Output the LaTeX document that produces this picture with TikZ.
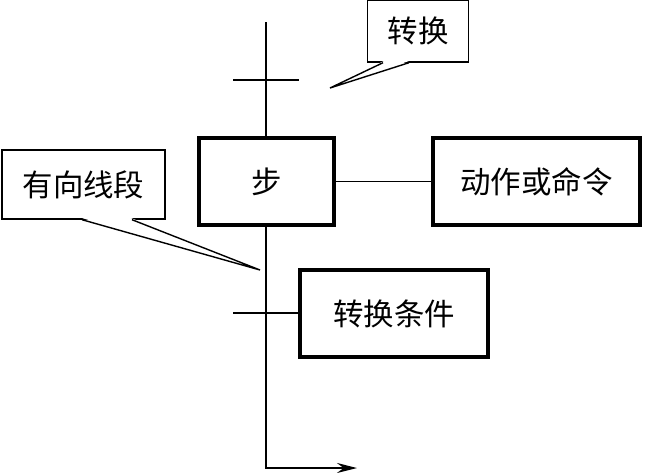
\documentclass[tikz,border=0pt]{standalone}
\usepackage{fontspec}
\newfontfamily\cjk{Noto Sans CJK SC}
\usetikzlibrary{arrows.meta, positioning, calc}

\begin{document}
\begin{tikzpicture}[
    x=0.03cm, y=-0.03cm,
    box/.style={
        rectangle,
        draw,
        line width=3.2pt,
        inner sep=0pt,
        minimum height=2.61cm,
        align=center,
        font=\cjk\fontsize{26}{30}\selectfont
    },
    callout/.style={
        rectangle,
        draw,
        line width=1.2pt,
        inner sep=0pt,
        align=center,
        font=\cjk\fontsize{26}{30}\selectfont
    },
    flow/.style={
        line width=1pt
    },
    arrow/.style={
        -{Stealth[length=0.6cm, width=0.3cm, inset=0.2cm]},
        line width=1.2pt
    }
]
\useasboundingbox (0,0) rectangle (655,472);

% Nodes
\node[box, minimum width=4.05cm] (step) at (266.5,181.5) {步};
\node[box, minimum width=6.21cm] (action) at (536.5,181.5) {动作或命令};
\node[box, minimum width=5.64cm] (cond) at (394,313.5) {转换条件};
\node[callout, minimum width=3.03cm, minimum height=1.86cm] (transnote) at (418,31) {转换};
\node[callout, minimum width=4.89cm, minimum height=2.07cm] (linenote) at (83.5,184.5) {有向线段};

% Coordinates
\coordinate (top) at (266,22);
\coordinate (tickL) at (233,80);
\coordinate (tickR) at (299,80);
\coordinate (condL) at (233,313);
\coordinate (out) at (357,468);
\coordinate (transtip) at (330,88);
\coordinate (linetip) at (260,270);

% Flow lines
\draw[flow] (top) -- (step.north -| top);
\draw[flow] (tickL) -- (tickR);
\draw[flow] (step) -- (action);
\draw[flow] (condL) -- (cond.west |- condL);
\draw[arrow] (step.south -| top) |- (out);

% Callout tails
\fill[white] ($(transnote.south)+(-34.5,-1.5)$) -- (transtip) -- ($(transnote.south)+(-9.5,-1.5)$) -- cycle;
\draw[line width=1.2pt] ($(transnote.south)+(-35,0)$) -- (transtip) -- ($(transnote.south)+(-9,0)$);
\fill[white] ($(linenote.south)+(-1,-1.5)$) -- (linetip) -- ($(linenote.south)+(48,-1.5)$) -- cycle;
\draw[line width=1.2pt] ($(linenote.south)+(-1.5,0)$) -- (linetip) -- ($(linenote.south)+(48.5,0)$);

\end{tikzpicture}
\end{document}
